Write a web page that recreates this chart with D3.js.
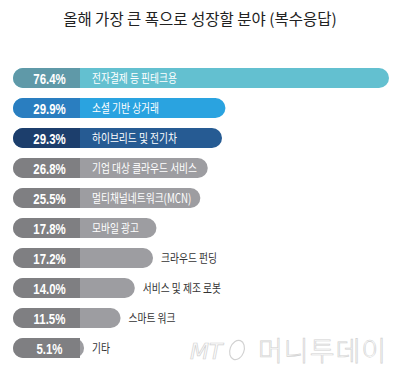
<!DOCTYPE html>
<html>
<head>
<meta charset="utf-8">
<script src="https://cdn.jsdelivr.net/npm/d3@7"></script>
<style>
  body { margin: 0; background: #fff; }
  svg { display: block; }
</style>
</head>
<body>
<svg id="chart"></svg>
<script>
// data
var categories = ['전자결제 등 핀테크용', '소셜 기반 상거래', '하이브리드 및 전기차', '기업 대상 클라우드 서비스',
    '멀티채널네트워크(MCN)', '모바일 광고', '크라우드 펀딩', '서비스 및 제조 로봇', '스마트 워크', '기타'];
var values = [76.4, 29.9, 29.3, 26.8, 25.5, 17.8, 17.2, 14.0, 11.5, 5.1];
var titleText = '올해 가장 큰 폭으로 성장할 분야 (복수응답)';

var width = 400, height = 372;
var labelEnd = 80;   // right edge of the dark percent block
var squeeze = 0.78;  // the original uses a condensed face

var svg = d3.select('#chart')
    .attr('width', width)
    .attr('height', height);

// colours: [dark block, light bar]
var palette = [
    ['#5f99a8', '#63c0d0'],
    ['#2a7ec0', '#2aa3e0'],
    ['#1c3e6c', '#265b93']
];
var grey = ['#7f7f82', '#9d9da1'];
function colours(i) { return palette[i] || grey; }

// bars start with the fixed label block; the first bar is clamped to the full width like the original
var x = d3.scaleLinear().domain([0, 58.6]).range([55, 389]).clamp(true);
var y = d3.scaleBand().domain(categories).range([63, 363]).paddingInner(1 / 3).paddingOuter(1 / 6);
var left = 13;
var r = y.bandwidth() / 2;

svg.append('text')
    .attr('x', 200)
    .attr('y', 25)
    .attr('text-anchor', 'middle')
    .attr('font-family', '"Noto Sans CJK KR", sans-serif')
    .attr('font-size', 15.5)
    .attr('fill', '#222')
    .text(titleText);

// watermark
var wm = svg.append('g').attr('class', 'watermark');
wm.append('text')
    .attr('x', 190)
    .attr('y', 359)
    .attr('font-family', '"DejaVu Sans", sans-serif')
    .attr('font-style', 'italic')
    .attr('font-size', 22)
    .attr('fill', '#fcfcfc')
    .attr('stroke', '#d2d2d2')
    .attr('stroke-width', 0.7)
    .text('MT');
wm.append('ellipse')
    .attr('cx', 237)
    .attr('cy', 350)
    .attr('rx', 7)
    .attr('ry', 10)
    .attr('transform', 'rotate(20,237,350)')
    .attr('fill', 'none')
    .attr('stroke', '#d2d2d2')
    .attr('stroke-width', 1.2);
wm.append('text')
    .attr('x', 258)
    .attr('y', 361)
    .attr('font-family', '"Noto Sans CJK KR", sans-serif')
    .attr('font-weight', 300)
    .attr('font-size', 27)
    .attr('letter-spacing', 1)
    .attr('fill', '#fcfcfc')
    .attr('stroke', '#d2d2d2')
    .attr('stroke-width', 0.7)
    .text('머니투데이');

var rows = svg.selectAll('.row')
    .data(categories)
    .enter().append('g')
    .attr('class', 'row')
    .attr('transform', function (d) { return 'translate(0,' + y(d) + ')'; });

// whole bar (light colour)
rows.append('rect')
    .attr('x', left)
    .attr('y', 0)
    .attr('width', function (d, i) { return x(values[i]) - left; })
    .attr('height', y.bandwidth())
    .attr('rx', r)
    .attr('fill', function (d, i) { return colours(i)[1]; });

// dark percent block, rounded only on the left
rows.append('path')
    .attr('d', function () {
        var h = y.bandwidth();
        return 'M' + labelEnd + ',0 L' + (left + r) + ',0 A' + r + ',' + r + ' 0 0 0 ' + (left + r) + ',' + h +
            ' L' + labelEnd + ',' + h + ' Z';
    })
    .attr('fill', function (d, i) { return colours(i)[0]; });

rows.append('text')
    .attr('transform', 'translate(' + ((left + labelEnd) / 2 + 3) + ',' + (y.bandwidth() / 2) + ') scale(0.74,1)')
    .attr('dy', '0.36em')
    .attr('text-anchor', 'middle')
    .attr('font-family', '"Liberation Sans", Arial, sans-serif')
    .attr('font-weight', 'bold')
    .attr('font-size', 15.5)
    .attr('fill', '#fff')
    .text(function (d, i) { return values[i].toFixed(1) + '%'; });

// first six labels sit inside the bar, the rest follow it
rows.append('text')
    .attr('transform', function (d, i) {
        var tx = i < 6 ? 92 : x(values[i]) + 8;
        return 'translate(' + tx + ',' + (y.bandwidth() / 2) + ') scale(' + squeeze + ',1)';
    })
    .attr('dy', '0.36em')
    .attr('font-family', '"Noto Sans CJK KR", sans-serif')
    .attr('font-size', 12.5)
    .attr('fill', function (d, i) { return i < 6 ? '#fff' : '#333'; })
    .text(function (d) { return d; });
</script>
</body>
</html>
